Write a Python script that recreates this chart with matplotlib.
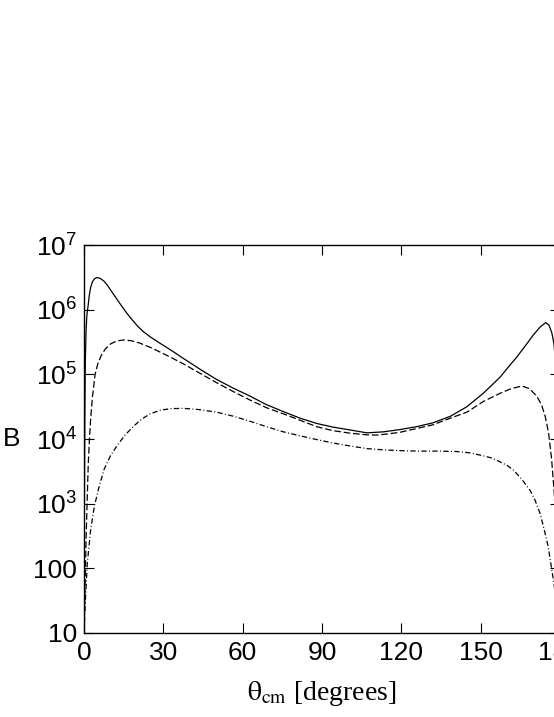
import matplotlib
matplotlib.use("Agg")
import matplotlib.pyplot as plt
from matplotlib.ticker import FixedLocator, NullLocator, FixedFormatter

# === DATA ===
theta_solid = [0, 0.15, 0.3, 0.5, 0.8, 1.1, 1.5, 2.0, 2.5, 3.2, 3.8, 4.5, 5.3, 6.3, 7.6,
               8.8, 10.1, 11.3, 12.6, 14.5, 16.4, 18.3, 20.2, 22.5, 25.2, 28, 31.5, 34.5,
               37.6, 44, 50.2, 56.5, 62.8, 69, 75.4, 81.7, 88, 94, 100.6, 107, 113.2,
               119.5, 125.7, 132, 138.5, 144.8, 151, 154.2, 157.4, 160.5, 163.7, 167,
               170, 172.5, 174.6, 175.8, 176.9, 177.7, 178.5, 179.2, 180]
b_solid = [1e1, 1e3, 2e4, 1.6e5, 5e5, 8.3e5, 1.1e6, 1.66e6, 2.2e6, 2.7e6, 2.95e6, 3.1e6,
           3.13e6, 3.02e6, 2.75e6, 2.4e6, 2.0e6, 1.7e6, 1.42e6, 1.1e6, 8.6e5, 6.9e5,
           5.6e5, 4.55e5, 3.76e5, 3.16e5, 2.57e5, 2.14e5, 1.76e5, 1.19e5, 8.3e4, 6.1e4,
           4.6e4, 3.4e4, 2.65e4, 2.1e4, 1.74e4, 1.53e4, 1.38e4, 1.245e4, 1.29e4, 1.4e4,
           1.55e4, 1.78e4, 2.24e4, 3.16e4, 5.1e4, 6.8e4, 9.1e4, 1.3e5, 1.86e5, 2.8e5,
           4.1e5, 5.4e5, 6.3e5, 5.8e5, 4.4e5, 3.0e5, 1.3e5, 2e4, 1e1]

theta_dashed = [0, 0.4, 0.8, 1.25, 1.6, 2.0, 2.5, 3.2, 4.2, 5.2, 6.5, 8, 10, 12.5, 15.1,
                18, 21, 25.2, 31.5, 37.6, 44, 50.2, 56.5, 62.8, 69, 75.4, 81.7, 88, 94,
                100.6, 107, 110.7, 115, 119.5, 125.7, 132, 138.5, 144.8, 151, 157.4,
                161.5, 165.6, 168.5, 171.2, 173, 174.4, 175.7, 176.8, 177.8, 178.8, 180]
b_dashed = [1e1, 5e1, 3e2, 1.3e3, 4e3, 9e3, 2e4, 4.5e4, 1.0e5, 1.45e5, 1.95e5, 2.45e5,
            2.95e5, 3.3e5, 3.4e5, 3.3e5, 3.05e5, 2.6e5, 1.95e5, 1.45e5, 1.03e5, 7.4e4,
            5.4e4, 4.0e4, 3.05e4, 2.45e4, 1.95e4, 1.55e4, 1.35e4, 1.23e4, 1.16e4,
            1.15e4, 1.2e4, 1.27e4, 1.45e4, 1.66e4, 2.1e4, 2.6e4, 3.8e4, 5.1e4, 6.0e4,
            6.6e4, 6.0e4, 4.6e4, 3.4e4, 2.24e4, 1.23e4, 5e3, 1.5e3, 2e2, 1e1]

theta_dashdot = [0, 0.5, 1.25, 2.5, 3.9, 5.5, 7.6, 10, 12.6, 15.5, 18.9, 22, 25, 29, 33,
                 37.6, 43.5, 50.2, 56.5, 62.8, 69, 75.4, 81.7, 88, 94, 100.6, 107, 113.2,
                 119.5, 127, 134, 141, 146, 151, 154, 157, 160, 162.4, 165.5, 168.7,
                 170.5, 172.5, 174, 175.5, 177.5, 179, 180]
b_dashdot = [1e1, 3e1, 1.2e2, 3.9e2, 9e2, 1.7e3, 3.4e3, 5.5e3, 8e3, 1.15e4, 1.6e4, 2.05e4,
             2.45e4, 2.8e4, 2.95e4, 2.98e4, 2.85e4, 2.6e4, 2.25e4, 1.88e4, 1.55e4, 1.29e4,
             1.12e4, 9.8e3, 8.7e3, 7.8e3, 7.1e3, 6.8e3, 6.6e3, 6.5e3, 6.5e3, 6.4e3,
             6.1e3, 5.5e3, 5.1e3, 4.5e3, 3.9e3, 3.3e3, 2.4e3, 1.6e3, 1.15e3, 7e2, 4e2,
             2.2e2, 6.6e1, 2.5e1, 1e1]

x_ticks = [0, 30, 60, 90, 120, 150, 180]
y_ticks = [1e1, 1e2, 1e3, 1e4, 1e5, 1e6, 1e7]
y_labels = ["10", "100", r"$\mathregular{10^{3}}$", r"$\mathregular{10^{4}}$",
            r"$\mathregular{10^{5}}$", r"$\mathregular{10^{6}}$", r"$\mathregular{10^{7}}$"]

# === STYLE ===
plt.rcParams["font.family"] = ["Liberation Sans", "DejaVu Sans"]
plt.rcParams["mathtext.fontset"] = "custom"
plt.rcParams["mathtext.rm"] = "Liberation Sans"
plt.rcParams["mathtext.it"] = "Liberation Sans:italic"
plt.rcParams["lines.scale_dashes"] = False

fig = plt.figure(figsize=(5.54, 7.17), dpi=100)
# right edge of the axes sits just past the figure edge, as in the reference
ax = fig.add_axes([84 / 554, 1 - 633 / 717, 476 / 554, 388 / 717])

ax.plot(theta_solid, b_solid, color="black", lw=0.9, linestyle="-")
ax.plot(theta_dashed, b_dashed, color="black", lw=0.9, linestyle=(0, (4.8, 2.0)))
ax.plot(theta_dashdot, b_dashdot, color="black", lw=0.9,
        linestyle=(0, (3.8, 1.7, 0.7, 1.7)))

ax.set_yscale("log")
ax.set_xlim(0, 180)
ax.set_ylim(10, 1e7)

ax.xaxis.set_major_locator(FixedLocator(x_ticks))
ax.yaxis.set_major_locator(FixedLocator(y_ticks))
ax.yaxis.set_major_formatter(FixedFormatter(y_labels))
ax.yaxis.set_minor_locator(NullLocator())
ax.tick_params(axis="both", which="major", direction="in", length=7.5, width=0.8,
               top=True, right=True, labelsize=19, colors="black")
ax.tick_params(axis="x", pad=6)
ax.tick_params(axis="y", pad=5)

for sp in ax.spines.values():
    sp.set_linewidth(1.0)

ax.set_xlabel(r"$\mathrm{\theta_{cm}}$ [degrees]", fontsize=20,
              fontfamily="Liberation Serif", math_fontfamily="stix")
ax.xaxis.set_label_coords(0.5, -0.118)
ax.set_ylabel("B", fontsize=19, rotation=0, va="center", ha="center")
ax.yaxis.set_label_coords(-0.153, 0.5)

fig.savefig("out.png", dpi=100)
